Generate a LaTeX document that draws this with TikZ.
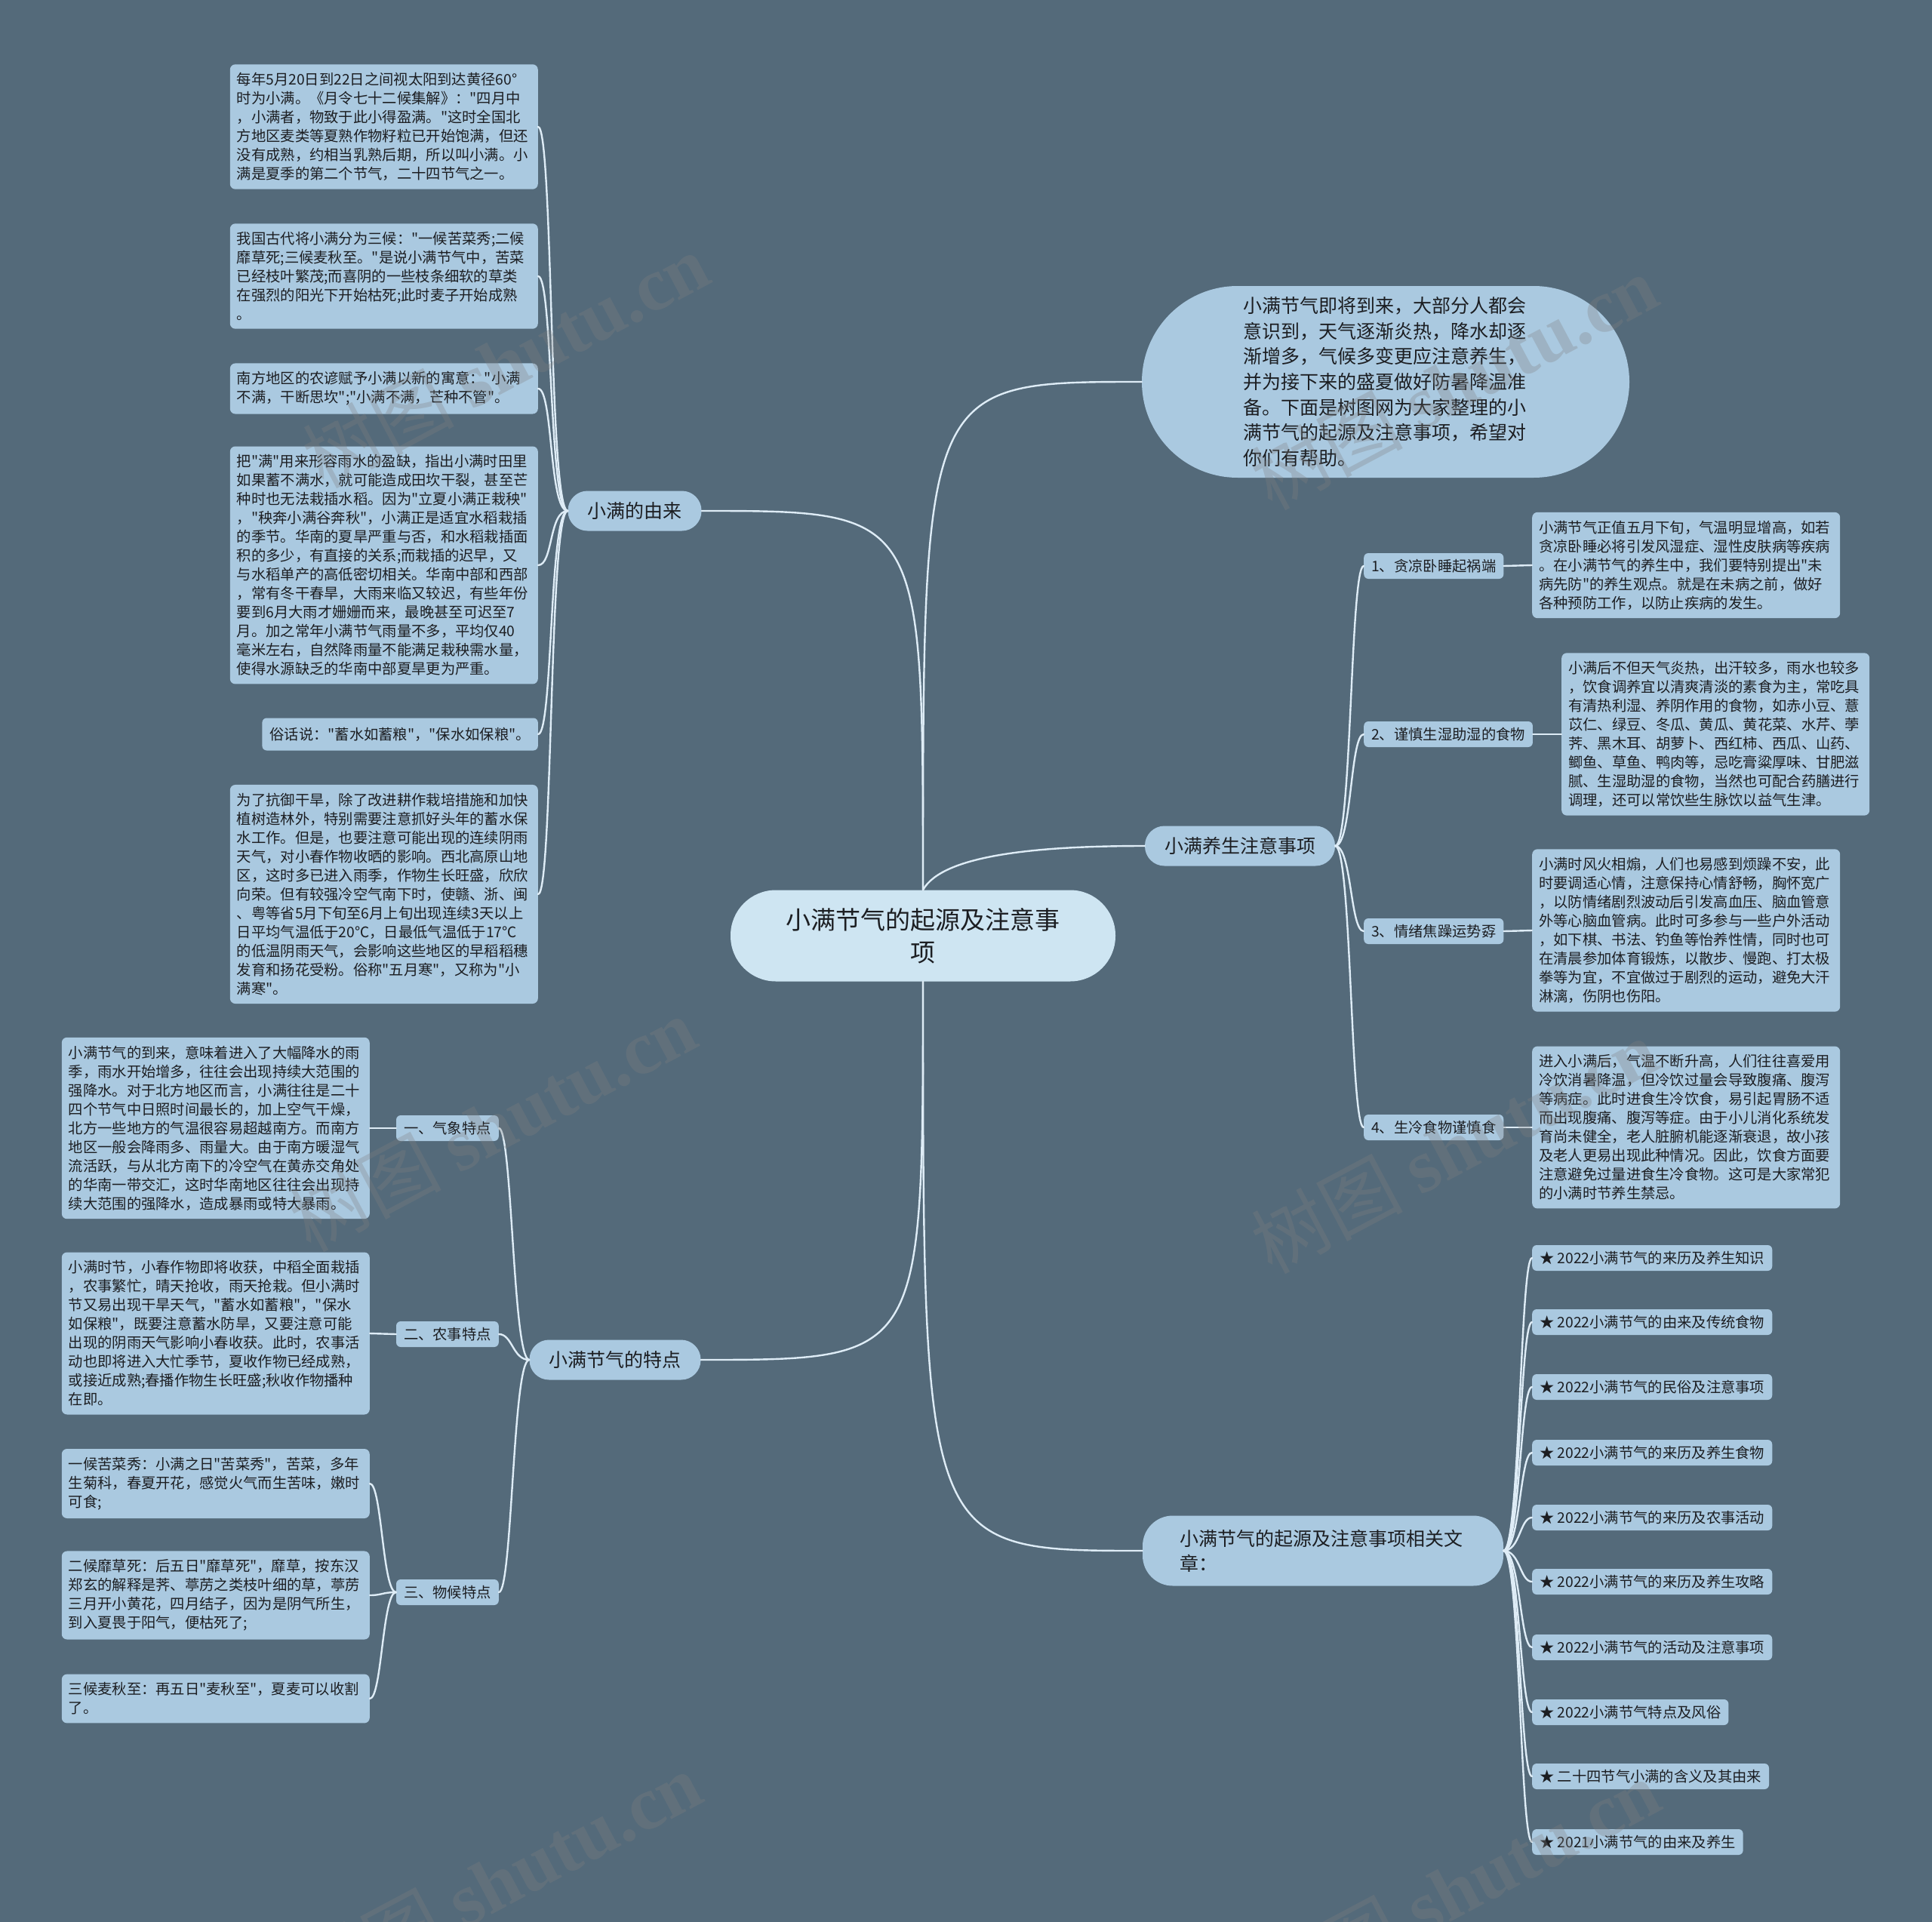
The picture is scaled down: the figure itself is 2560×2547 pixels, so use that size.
\documentclass[tikz,border=0pt]{standalone}
\usepackage{fontspec}
\newfontfamily\cjk{Noto Sans CJK SC}
\newfontfamily\wmfont{Liberation Serif}
\usepackage{tikz}
\usepackage{xcolor}
\definecolor{bgc}{RGB}{84,106,122}
\definecolor{boxc}{RGB}{170,201,224}
\definecolor{rootc}{RGB}{206,229,242}
\definecolor{linec}{RGB}{222,236,246}
\definecolor{txtc}{RGB}{28,30,34}

\begin{document}
\begin{tikzpicture}[x=1pt,y=-1pt,line cap=round,
  connector/.style={linec,line width=2.4pt},
  boxfill/.style={fill=boxc,text=txtc},
  leaf/.style={boxfill,rounded corners=7pt,text width=390pt,align=left,inner xsep=9pt,inner ysep=11pt,font=\cjk\fontsize{19.3}{25}\selectfont},
  tagbox/.style={boxfill,rounded corners=6pt,minimum height=34pt,inner xsep=10pt,inner ysep=4pt,font=\cjk\fontsize{19.3}{25}\selectfont},
  branchbox/.style={boxfill,rounded corners=26pt,minimum height=53pt,inner xsep=26pt,font=\cjk\fontsize{25}{33}\selectfont},
  rootbox/.style={fill=rootc,text=txtc,rounded corners=60pt,minimum width=510pt,minimum height=121pt,text width=370pt,align=center,font=\cjk\fontsize{33}{43}\selectfont},
  introbox/.style={boxfill,rounded corners=127pt,minimum height=254pt,text width=378pt,inner xsep=134pt,align=left,font=\cjk\fontsize{25}{33.7}\selectfont},
  wmark/.style={text=gray,opacity=0.3,rotate=28,font=\cjk\fontsize{100}{100}\selectfont}]
\useasboundingbox (0,0) rectangle (2560,2547);
\fill[bgc] (0,0) rectangle (2560,2547);

\node[rootbox] (root) at (1223,1240) {小满节气的起源及注意事\\项};
\node[introbox] (intro) at (1836,506) {小满节气即将到来，大部分人都会\\意识到，天气逐渐炎热，降水却逐\\渐增多，气候多变更应注意养生，\\并为接下来的盛夏做好防暑降温准\\备。下面是树图网为大家整理的小\\满节气的起源及注意事项，希望对\\你们有帮助。};
\node[branchbox] (origin) at (841,677) {小满的由来};
\node[branchbox] (feature) at (815,1802) {小满节气的特点};
\node[branchbox] (health) at (1643,1121) {小满养生注意事项};
\node[branchbox,rounded corners=40pt,minimum height=93pt,text width=380pt,inner xsep=49pt,align=left] (links) at (1753,2055) {小满节气的起源及注意事项相关文\\章：};

\node[leaf,anchor=east] (o1) at (713,168) {每年5月20日到22日之间视太阳到达黄径60°\\时为小满。《月令七十二候集解》："四月中\\，小满者，物致于此小得盈满。"这时全国北\\方地区麦类等夏熟作物籽粒已开始饱满，但还\\没有成熟，约相当乳熟后期，所以叫小满。小\\满是夏季的第二个节气，二十四节气之一。};
\node[leaf,anchor=east] (o2) at (713,366) {我国古代将小满分为三候："一候苦菜秀;二候\\靡草死;三候麦秋至。"是说小满节气中，苦菜\\已经枝叶繁茂;而喜阴的一些枝条细软的草类\\在强烈的阳光下开始枯死;此时麦子开始成熟\\。};
\node[leaf,anchor=east] (o3) at (713,515) {南方地区的农谚赋予小满以新的寓意："小满\\不满，干断思坎";"小满不满，芒种不管"。};
\node[leaf,anchor=east] (o4) at (713,749) {把"满"用来形容雨水的盈缺，指出小满时田里\\如果蓄不满水，就可能造成田坎干裂，甚至芒\\种时也无法栽插水稻。因为"立夏小满正栽秧"\\，"秧奔小满谷奔秋"，小满正是适宜水稻栽插\\的季节。华南的夏旱严重与否，和水稻栽插面\\积的多少，有直接的关系;而栽插的迟早，又\\与水稻单产的高低密切相关。华南中部和西部\\，常有冬干春旱，大雨来临又较迟，有些年份\\要到6月大雨才姗姗而来，最晚甚至可迟至7\\月。加之常年小满节气雨量不多，平均仅40\\毫米左右，自然降雨量不能满足栽秧需水量，\\使得水源缺乏的华南中部夏旱更为严重。};
\node[tagbox,anchor=east,minimum height=43pt] (o5) at (713,973) {俗话说："蓄水如蓄粮"，"保水如保粮"。};
\node[leaf,anchor=east] (o6) at (713,1185) {为了抗御干旱，除了改进耕作栽培措施和加快\\植树造林外，特别需要注意抓好头年的蓄水保\\水工作。但是，也要注意可能出现的连续阴雨\\天气，对小春作物收晒的影响。西北高原山地\\区，这时多已进入雨季，作物生长旺盛，欣欣\\向荣。但有较强冷空气南下时，使赣、浙、闽\\、粤等省5月下旬至6月上旬出现连续3天以上\\日平均气温低于20℃，日最低气温低于17℃\\的低温阴雨天气，会影响这些地区的早稻稻穗\\发育和扬花受粉。俗称"五月寒"，又称为"小\\满寒"。};

\node[tagbox,anchor=east] (fa) at (661,1495) {一、气象特点};
\node[tagbox,anchor=east] (fb) at (661,1768) {二、农事特点};
\node[tagbox,anchor=east] (fc) at (661,2110) {三、物候特点};
\node[leaf,anchor=east] (fa1) at (490,1495) {小满节气的到来，意味着进入了大幅降水的雨\\季，雨水开始增多，往往会出现持续大范围的\\强降水。对于北方地区而言，小满往往是二十\\四个节气中日照时间最长的，加上空气干燥，\\北方一些地方的气温很容易超越南方。而南方\\地区一般会降雨多、雨量大。由于南方暖湿气\\流活跃，与从北方南下的冷空气在黄赤交角处\\的华南一带交汇，这时华南地区往往会出现持\\续大范围的强降水，造成暴雨或特大暴雨。};
\node[leaf,anchor=east] (fb1) at (490,1767) {小满时节，小春作物即将收获，中稻全面栽插\\，农事繁忙，晴天抢收，雨天抢栽。但小满时\\节又易出现干旱天气，"蓄水如蓄粮"，"保水\\如保粮"，既要注意蓄水防旱，又要注意可能\\出现的阴雨天气影响小春收获。此时，农事活\\动也即将进入大忙季节，夏收作物已经成熟，\\或接近成熟;春播作物生长旺盛;秋收作物播种\\在即。};
\node[leaf,anchor=east] (fc1) at (490,1966) {一候苦菜秀：小满之日"苦菜秀"，苦菜，多年\\生菊科，春夏开花，感觉火气而生苦味，嫩时\\可食;};
\node[leaf,anchor=east] (fc2) at (490,2114) {二候靡草死：后五日"靡草死"，靡草，按东汉\\郑玄的解释是荠、葶苈之类枝叶细的草，葶苈\\三月开小黄花，四月结子，因为是阴气所生，\\到入夏畏于阳气，便枯死了;};
\node[leaf,anchor=east] (fc3) at (490,2251) {三候麦秋至：再五日"麦秋至"，夏麦可以收割\\了。};

\node[tagbox,anchor=west] (h1) at (1807,750) {1、贪凉卧睡起祸端};
\node[tagbox,anchor=west] (h2) at (1807,973) {2、谨慎生湿助湿的食物};
\node[tagbox,anchor=west] (h3) at (1807,1234) {3、情绪焦躁运势孬};
\node[tagbox,anchor=west] (h4) at (1807,1494) {4、生冷食物谨慎食};
\node[leaf,anchor=west] (h1t) at (2030,749) {小满节气正值五月下旬，气温明显增高，如若\\贪凉卧睡必将引发风湿症、湿性皮肤病等疾病\\。在小满节气的养生中，我们要特别提出"未\\病先防"的养生观点。就是在未病之前，做好\\各种预防工作，以防止疾病的发生。};
\node[leaf,anchor=west] (h2t) at (2069,973) {小满后不但天气炎热，出汗较多，雨水也较多\\，饮食调养宜以清爽清淡的素食为主，常吃具\\有清热利湿、养阴作用的食物，如赤小豆、薏\\苡仁、绿豆、冬瓜、黄瓜、黄花菜、水芹、荸\\荠、黑木耳、胡萝卜、西红柿、西瓜、山药、\\鲫鱼、草鱼、鸭肉等，忌吃膏粱厚味、甘肥滋\\腻、生湿助湿的食物，当然也可配合药膳进行\\调理，还可以常饮些生脉饮以益气生津。};
\node[leaf,anchor=west] (h3t) at (2030,1233) {小满时风火相煽，人们也易感到烦躁不安，此\\时要调适心情，注意保持心情舒畅，胸怀宽广\\，以防情绪剧烈波动后引发高血压、脑血管意\\外等心脑血管病。此时可多参与一些户外活动\\，如下棋、书法、钓鱼等怡养性情，同时也可\\在清晨参加体育锻炼，以散步、慢跑、打太极\\拳等为宜，不宜做过于剧烈的运动，避免大汗\\淋漓，伤阴也伤阳。};
\node[leaf,anchor=west] (h4t) at (2030,1494) {进入小满后，气温不断升高，人们往往喜爱用\\冷饮消暑降温，但冷饮过量会导致腹痛、腹泻\\等病症。此时进食生冷饮食，易引起胃肠不适\\而出现腹痛、腹泻等症。由于小儿消化系统发\\育尚未健全，老人脏腑机能逐渐衰退，故小孩\\及老人更易出现此种情况。因此，饮食方面要\\注意避免过量进食生冷食物。这可是大家常犯\\的小满时节养生禁忌。};

\node[tagbox,anchor=west] (a1) at (2030,1667) {★ 2022小满节气的来历及养生知识};
\node[tagbox,anchor=west] (a2) at (2030,1752) {★ 2022小满节气的由来及传统食物};
\node[tagbox,anchor=west] (a3) at (2030,1838) {★ 2022小满节气的民俗及注意事项};
\node[tagbox,anchor=west] (a4) at (2030,1925) {★ 2022小满节气的来历及养生食物};
\node[tagbox,anchor=west] (a5) at (2030,2011) {★ 2022小满节气的来历及农事活动};
\node[tagbox,anchor=west] (a6) at (2030,2096) {★ 2022小满节气的来历及养生攻略};
\node[tagbox,anchor=west] (a7) at (2030,2183) {★ 2022小满节气的活动及注意事项};
\node[tagbox,anchor=west] (a8) at (2030,2269) {★ 2022小满节气特点及风俗};
\node[tagbox,anchor=west] (a9) at (2030,2354) {★ 二十四节气小满的含义及其由来};
\node[tagbox,anchor=west] (a10) at (2030,2441) {★ 2021小满节气的由来及养生};

\draw[connector] (root.north) .. controls (root.north |- origin.east) .. (origin.east);
\draw[connector] (root.north) .. controls (root.north |- intro.west) .. (intro.west);
\draw[connector] (root.north) .. controls +(25,-45) and +(-150,0) .. (health.west);
\draw[connector] (root.south) .. controls (root.south |- feature.east) .. (feature.east);
\draw[connector] (root.south) .. controls (root.south |- links.west) .. (links.west);

\draw[connector] (origin.west) .. controls +(-25,0) and +(20,0) .. (o1.east);
\draw[connector] (origin.west) .. controls +(-25,0) and +(20,0) .. (o2.east);
\draw[connector] (origin.west) .. controls +(-25,0) and +(20,0) .. (o3.east);
\draw[connector] (origin.west) .. controls +(-25,0) and +(20,0) .. (o4.east);
\draw[connector] (origin.west) .. controls +(-25,0) and +(20,0) .. (o5.east);
\draw[connector] (origin.west) .. controls +(-25,0) and +(20,0) .. (o6.east);

\draw[connector] (feature.west) .. controls +(-22,0) and +(18,0) .. (fa.east);
\draw[connector] (feature.west) .. controls +(-22,0) and +(18,0) .. (fb.east);
\draw[connector] (feature.west) .. controls +(-22,0) and +(18,0) .. (fc.east);
\draw[connector] (fa.west) -- (fa1.east);
\draw[connector] (fb.west) -- (fb1.east);
\draw[connector] (fc.west) .. controls +(-18,0) and +(16,0) .. (fc1.east);
\draw[connector] (fc.west) .. controls +(-18,0) and +(16,0) .. (fc2.east);
\draw[connector] (fc.west) .. controls +(-18,0) and +(16,0) .. (fc3.east);

\draw[connector] (health.east) .. controls +(22,0) and +(-18,0) .. (h1.west);
\draw[connector] (health.east) .. controls +(22,0) and +(-18,0) .. (h2.west);
\draw[connector] (health.east) .. controls +(22,0) and +(-18,0) .. (h3.west);
\draw[connector] (health.east) .. controls +(22,0) and +(-18,0) .. (h4.west);
\draw[connector] (h1.east) -- (h1t.west);
\draw[connector] (h2.east) -- (h2t.west);
\draw[connector] (h3.east) -- (h3t.west);
\draw[connector] (h4.east) -- (h4t.west);

\draw[connector] (links.east) .. controls +(22,0) and +(-16,0) .. (a1.west);
\draw[connector] (links.east) .. controls +(22,0) and +(-16,0) .. (a2.west);
\draw[connector] (links.east) .. controls +(22,0) and +(-16,0) .. (a3.west);
\draw[connector] (links.east) .. controls +(22,0) and +(-16,0) .. (a4.west);
\draw[connector] (links.east) .. controls +(22,0) and +(-16,0) .. (a5.west);
\draw[connector] (links.east) .. controls +(22,0) and +(-16,0) .. (a6.west);
\draw[connector] (links.east) .. controls +(22,0) and +(-16,0) .. (a7.west);
\draw[connector] (links.east) .. controls +(22,0) and +(-16,0) .. (a8.west);
\draw[connector] (links.east) .. controls +(22,0) and +(-16,0) .. (a9.west);
\draw[connector] (links.east) .. controls +(22,0) and +(-16,0) .. (a10.west);

\node[wmark] (wm1) at (670,477) {树图 {\wmfont\bfseries shutu.cn}};
\node[wmark] (wm2) at (1927,506) {树图 {\wmfont\bfseries shutu.cn}};
\node[wmark] (wm3) at (653,1489) {树图 {\wmfont\bfseries shutu.cn}};
\node[wmark] (wm4) at (1927,1518) {树图 {\wmfont\bfseries shutu.cn}};
\node[wmark] (wm5) at (660,2490) {树图 {\wmfont\bfseries shutu.cn}};
\node[wmark] (wm6) at (1930,2500) {树图 {\wmfont\bfseries shutu.cn}};
\end{tikzpicture}
\end{document}
